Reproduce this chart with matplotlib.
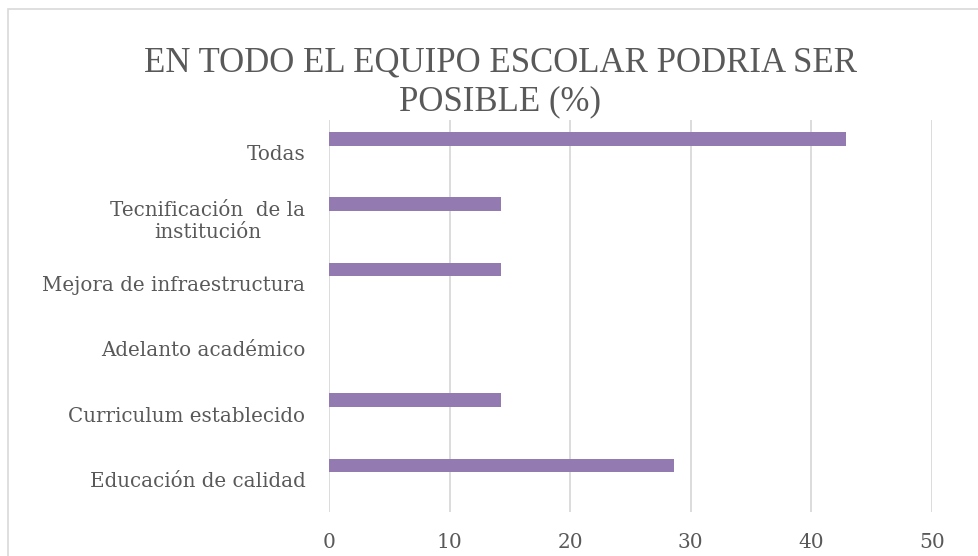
import numpy as np
import matplotlib.pyplot as plt
from matplotlib.patches import Rectangle

# Data (percent), listed bottom to top as drawn in the chart
categories = ["Educación de calidad", "Curriculum establecido", "Adelanto académico",
              "Mejora de infraestructura", "Tecnificación  de la\ninstitución", "Todas"]
values = [28.57, 14.29, 0.0, 14.29, 14.29, 42.86]
xticks = [0, 10, 20, 30, 40, 50]

plt.rcParams['font.family'] = ['DejaVu Serif']
grey = "#595959"

fig = plt.figure(figsize=(9.79, 5.56), dpi=100)
ax = fig.add_axes([0.336, 0.079, 0.616, 0.705])

y = np.arange(len(categories))
ax.barh(y + 0.215, values, height=0.21, color="#937AB1", zorder=3)

ax.set_xlim(0, 50)
ax.set_ylim(-0.5, len(categories) - 0.5)
ax.set_xticks(xticks)
ax.set_yticks(y)
ax.set_yticklabels(categories, multialignment="center")
ax.tick_params(axis="y", length=0, pad=17, labelsize=14.3, labelcolor=grey)
ax.tick_params(axis="x", length=0, pad=15, labelsize=14.5, labelcolor=grey)
ax.grid(axis="x", color="#D9D9D9", linewidth=1.3, zorder=0)
for s in ax.spines.values():
    s.set_visible(False)

fig.text(0.511, 0.852, "EN TODO EL EQUIPO ESCOLAR PODRIA SER\nPOSIBLE (%)",
         ha="center", va="center", fontsize=25, color=grey, linespacing=1.22,
         family="Liberation Serif")

# light outer border of the chart area
fig.patches.append(Rectangle((8 / 979, -0.05), 1.05, 1.05 - 9 / 556,
                             transform=fig.transFigure, fill=False,
                             edgecolor="#D9D9D9", linewidth=1.2, clip_on=False))

fig.savefig("out.png", dpi=100)
